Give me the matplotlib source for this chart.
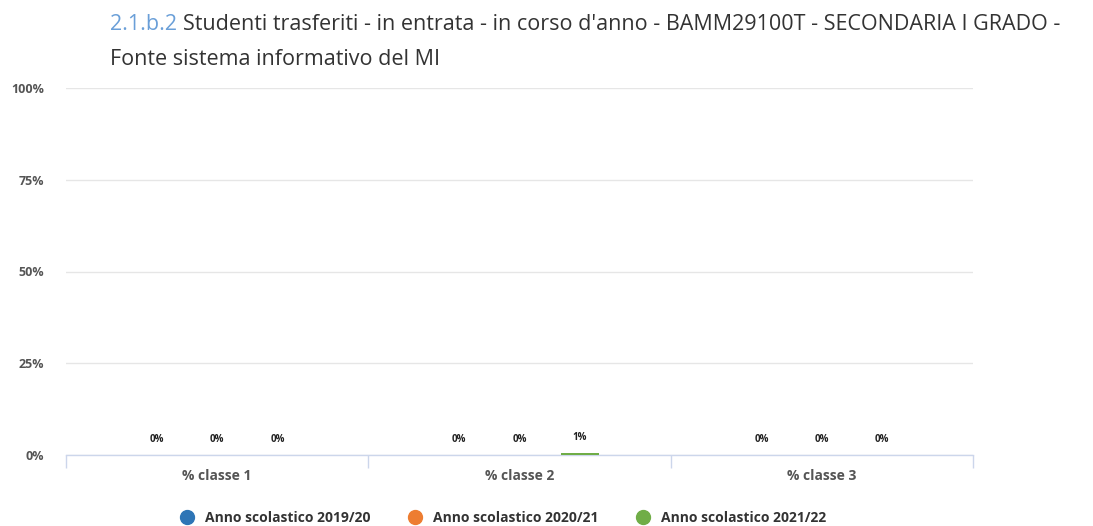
import matplotlib
matplotlib.use("Agg")
import matplotlib.pyplot as plt
from matplotlib.lines import Line2D
import numpy as np

categories = ["% classe 1", "% classe 2", "% classe 3"]
series_names = ["Anno scolastico 2019/20", "Anno scolastico 2020/21", "Anno scolastico 2021/22"]
values_2019 = [0, 0, 0]
values_2020 = [0, 0, 0]
values_2021 = [0, 0.6, 0]
y_ticks = [0, 25, 50, 75, 100]
colors = ["#2e75b6", "#ed7d31", "#70ad47"]

plt.rcParams['font.family'] = ['Open Sans', 'DejaVu Sans']

fig = plt.figure(figsize=(10.93, 5.26), dpi=100)
ax = fig.add_axes([66/1093, 1-455/526, (973-66)/1093, (455-88)/526])

x = np.arange(len(categories))
offsets = [-0.2, 0.0, 0.2]
width = 0.125
all_vals = [values_2019, values_2020, values_2021]
for vals, off, c in zip(all_vals, offsets, colors):
    ax.bar(x + off, vals, width=width, color=c, zorder=3)
    for xi, v in zip(x, vals):
        ax.annotate(f"{v:.0f}%", (xi + off, v), xytext=(0, 7), textcoords="offset points",
                    ha="center", va="bottom", fontsize=7, fontweight="bold", color="#222222")

ax.set_xlim(-0.5, 2.5)
ax.set_ylim(0, 100)
ax.set_yticks(y_ticks)
ax.set_yticklabels([f"{t}%" for t in y_ticks], fontsize=9, fontweight="bold", color="#555555")
ax.tick_params(axis="y", length=0, pad=16)
ax.grid(axis="y", color="#e6e6e6", linewidth=1, zorder=0)
ax.set_axisbelow(True)

ax.set_xticks(x)
ax.set_xticklabels(categories, fontsize=10, fontweight="bold", color="#555555")
ax.tick_params(axis="x", length=0, pad=10)
ax.set_xticks([-0.5, 0.5, 1.5, 2.5], minor=True)
ax.tick_params(axis="x", which="minor", length=9, color="#ccd6eb", width=1)

for s in ["top", "right", "left"]:
    ax.spines[s].set_visible(False)
ax.spines["bottom"].set_color("#ccd6eb")
ax.spines["bottom"].set_linewidth(1)

fig.text(110/1093, 1-30/526, "2.1.b.2", fontsize=15.5, color="#6a9fd8", va="baseline", ha="left")
fig.text(183/1093, 1-30/526, "Studenti trasferiti - in entrata - in corso d'anno - BAMM29100T - SECONDARIA I GRADO -",
         fontsize=15.5, color="#333333", va="baseline", ha="left")
fig.text(110/1093, 1-65/526, "Fonte sistema informativo del MI", fontsize=15.5, color="#333333",
         va="baseline", ha="left")

handles = [Line2D([0], [0], marker="o", linestyle="", markersize=10, markerfacecolor=c,
                  markeredgecolor=c) for c in colors]
fig.legend(handles, series_names, loc="center", bbox_to_anchor=(500/1093, 1-518/526), ncol=3,
           frameon=False, prop={"size": 10, "weight": "bold"}, labelcolor="#333333",
           handletextpad=0.3, columnspacing=2.2)

fig.savefig("out.png", dpi=100)
